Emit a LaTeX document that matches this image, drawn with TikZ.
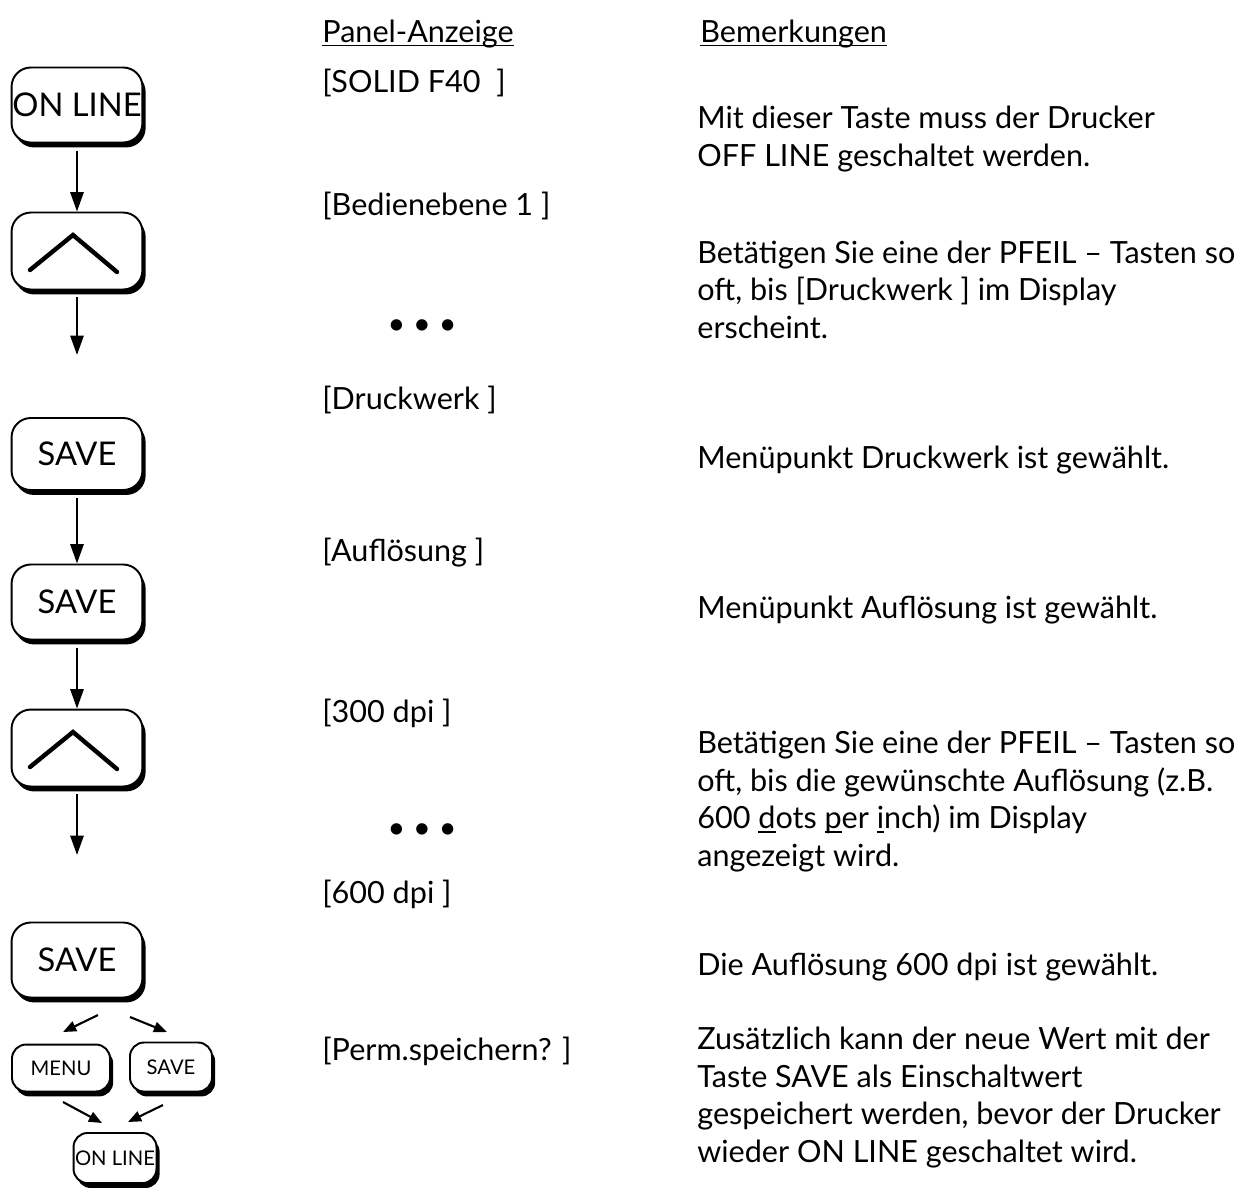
\documentclass[tikz,border=0pt]{standalone}
\usepackage{fontspec}
\setmainfont{Lato}
\usetikzlibrary{arrows.meta, positioning, shadows}

% Unterstreichung auf Grundlinienhoehe
\newcommand{\ustrich}[1]{\setbox0\hbox{#1}\rlap{\rule[-2.4pt]{\wd0}{0.9pt}}#1}
\newcommand{\punkte}{\textbullet\hspace{4.5pt}\textbullet\hspace{4.5pt}\textbullet}

\begin{document}
\begin{tikzpicture}[x=0.02cm, y=-0.02cm,
    font=\fontsize{17.4}{21.3}\selectfont,
    taste/.style={draw, line width=1.1pt, rounded corners=11pt, fill=white,
        minimum width=74.5pt, minimum height=42.7pt, inner sep=0pt,
        font=\fontsize{18.6}{22}\selectfont,
        drop shadow={shadow xshift=1.8pt, shadow yshift=-2.8pt, fill=black, opacity=1}},
    kleintaste/.style={taste, rounded corners=8pt, font=\fontsize{11.5}{14}\selectfont},
    pfeil/.style={-{Triangle[length=11pt, width=7.5pt]}, line width=1.2pt},
    kleinpfeil/.style={-{Triangle[length=7.5pt, width=6pt]}, line width=1.2pt},
    winkel/.style={line width=2.5pt, line cap=round, line join=miter},
    kopf/.style={anchor=base west, inner sep=0pt},
    anzeige/.style={anchor=base west, inner sep=0pt},
    bemerkung/.style={anchor=base west, inner sep=0pt, align=left}]

    \useasboundingbox (0,0) rectangle (1250,1198);

    % Tasten (linke Spalte)
    \node[taste] (on1) at (77,105) {ON LINE};
    \node[taste, minimum height=43.8pt] (up1) at (77,251) {};
    \node[taste, minimum height=41pt] (save1) at (77,454) {SAVE};
    \node[taste] (save2) at (77,602) {SAVE};
    \node[taste, minimum height=43.8pt] (up2) at (77,748) {};
    \node[taste] (save3) at (77,960) {SAVE};
    \node[kleintaste, minimum width=55.8pt, minimum height=26.7pt] (menu) at (61,1068) {MENU};
    \node[kleintaste, minimum width=46.7pt, minimum height=27.9pt] (save4) at (171,1067) {SAVE};
    \node[kleintaste, minimum width=47.2pt, minimum height=28.5pt] (on2) at (115,1158) {ON LINE};

    % Pfeilsymbole auf den Tasten
    \draw[winkel] ([shift={(-47,19)}]up1.center) -- ([shift={(-4,-16)}]up1.center) -- ([shift={(40,21)}]up1.center);
    \draw[winkel] ([shift={(-47,19)}]up2.center) -- ([shift={(-4,-16)}]up2.center) -- ([shift={(40,21)}]up2.center);

    % Verbindungen
    \coordinate (frei1) at (77,355);
    \coordinate (frei2) at (77,855);
    \draw[pfeil, shorten <=4pt] (on1) -- (up1);
    \draw[pfeil, shorten <=4pt] (up1) -- (frei1);
    \draw[pfeil, shorten <=4pt] (save1) -- (save2);
    \draw[pfeil, shorten <=4pt] (save2) -- (up2);
    \draw[pfeil, shorten <=4pt] (up2) -- (frei2);

    \coordinate (ml1) at (98,1015);  \coordinate (ml2) at (63,1032);
    \coordinate (mr1) at (130,1017); \coordinate (mr2) at (167,1032);
    \coordinate (ul1) at (63,1102);  \coordinate (ul2) at (102,1123);
    \coordinate (ur1) at (163,1105); \coordinate (ur2) at (128,1122);
    \draw[kleinpfeil] (ml1) -- (ml2);
    \draw[kleinpfeil] (mr1) -- (mr2);
    \draw[kleinpfeil] (ul1) -- (ul2);
    \draw[kleinpfeil] (ur1) -- (ur2);

    % Panel-Anzeige
    \node[kopf] (kopfA) at (322,42) {\ustrich{Panel-Anzeige}};
    \node[anzeige] (a1) at (322,92) {[SOLID F40\ \ ]};
    \node[anzeige] (a2) at (322,215) {[Bedienebene 1 ]};
    \node (p1) at (422,327) {\punkte};
    \node[anzeige] (a3) at (322,409) {[Druckwerk ]};
    \node[anzeige] (a4) at (322,561) {[Auflösung ]};
    \node[anzeige] (a5) at (322,722) {[300 dpi ]};
    \node (p2) at (422,831) {\punkte};
    \node[anzeige] (a6) at (322,903) {[600 dpi ]};
    \node[anzeige] (a7) at (322,1060) {[Perm.speichern? ]};

    % Bemerkungen (base = letzte Zeile)
    \node[kopf] (kopfB) at (700,42) {\ustrich{Bemerkungen}};
    \node[bemerkung] (b1) at (697,166) {Mit dieser Taste muss der Drucker\\OFF LINE geschaltet werden.};
    \node[bemerkung] (b2) at (697,338) {Betätigen Sie eine der PFEIL – Tasten so\\oft, bis [Druckwerk ] im Display\\erscheint.};
    \node[bemerkung] (b3) at (697,468) {Menüpunkt Druckwerk ist gewählt.};
    \node[bemerkung] (b4) at (697,618) {Menüpunkt Auflösung ist gewählt.};
    \node[bemerkung] (b5) at (697,866) {Betätigen Sie eine der PFEIL – Tasten so\\oft, bis die gewünschte Auflösung (z.B.\\600 \ustrich{d}ots \ustrich{p}er \ustrich{i}nch) im Display\\angezeigt wird.};
    \node[bemerkung] (b6) at (697,975) {Die Auflösung 600 dpi ist gewählt.};
    \node[bemerkung] (b7) at (697,1162) {Zusätzlich kann der neue Wert mit der\\Taste SAVE als Einschaltwert\\gespeichert werden, bevor der Drucker\\wieder ON LINE geschaltet wird.};
\end{tikzpicture}
\end{document}
